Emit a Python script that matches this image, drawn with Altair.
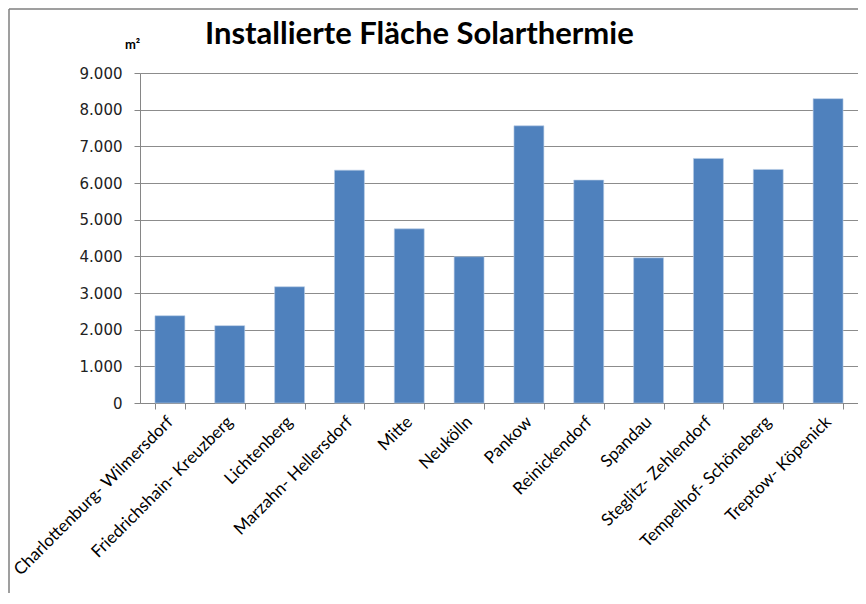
import altair as alt
import pandas as pd

bezirke = [
    "Charlottenburg- Wilmersdorf", "Friedrichshain- Kreuzberg", "Lichtenberg",
    "Marzahn- Hellersdorf", "Mitte", "Neukölln", "Pankow", "Reinickendorf",
    "Spandau", "Steglitz- Zehlendorf", "Tempelhof- Schöneberg", "Treptow- Köpenick",
]
flaeche = [2380, 2110, 3170, 6350, 4750, 3990, 7560, 6080, 3960, 6670, 6370, 8300]
y_ticks = [0, 1000, 2000, 3000, 4000, 5000, 6000, 7000, 8000, 9000]

df = pd.DataFrame({"Bezirk": bezirke, "Fläche": flaeche})

W, H = 718, 330
PL, PT, PB = 132, 65, 190

bars = alt.Chart(df).mark_bar(color="#4F81BD", stroke="#B9CDE5", strokeWidth=0.6).encode(
    x=alt.X("Bezirk:N", sort=bezirke, title=None,
            scale=alt.Scale(paddingInner=0.5, paddingOuter=0.25),
            axis=alt.Axis(labelAngle=-45, labelAlign="right", labelBaseline="middle",
                          labelFont="Lato", labelFontSize=17,
                          labelColor="#000000", labelPadding=10, tickBand="extent",
                          tickSize=6, tickColor="#868686", domainColor="#868686",
                          labelOverlap=False, labelLimit=400)),
    y=alt.Y("Fläche:Q", title="m²",
            scale=alt.Scale(domain=[0, 9000], nice=False),
            axis=alt.Axis(values=y_ticks, labelExpr="replace(format(datum.value, ',.0f'), ',', '.')",
                          labelFont="DejaVu Sans", labelFontSize=15, labelColor="#222222",
                          labelPadding=12, tickSize=6, tickColor="#868686",
                          domainColor="#868686", gridColor="#8C8C8C", gridWidth=1,
                          titleAngle=0, titleX=-8, titleY=-22, titleAlign="center",
                          titleFont="Lato", titleFontSize=13, titleFontWeight="bold",
                          titleColor="#000000")),
)

frame_left = alt.Chart(pd.DataFrame({"f": [0]})).mark_rule(color="#7F7F7F", strokeWidth=1.5).encode(
    x=alt.value(-PL + 1), y=alt.value(-PT + 1), y2=alt.value(H + PB)
)
frame_top = alt.Chart(pd.DataFrame({"f": [0]})).mark_rule(color="#7F7F7F", strokeWidth=1.5).encode(
    y=alt.value(-PT + 1), x=alt.value(-PL + 1), x2=alt.value(W)
)

chart = alt.layer(bars, frame_left, frame_top).properties(
    width=W, height=H,
    title=alt.TitleParams("Installierte Fläche Solarthermie", font="Lato", fontSize=31,
                          fontWeight="bold", color="#000000", anchor="start", frame="group",
                          dx=65, dy=43, offset=0),
    autosize=alt.AutoSizeParams(type="none"),
    padding={"left": PL, "top": PT, "right": 0, "bottom": PB},
).configure_view(stroke=None).configure(background="white")

chart.save("out.html", embed_options={"renderer": "svg", "actions": False})
